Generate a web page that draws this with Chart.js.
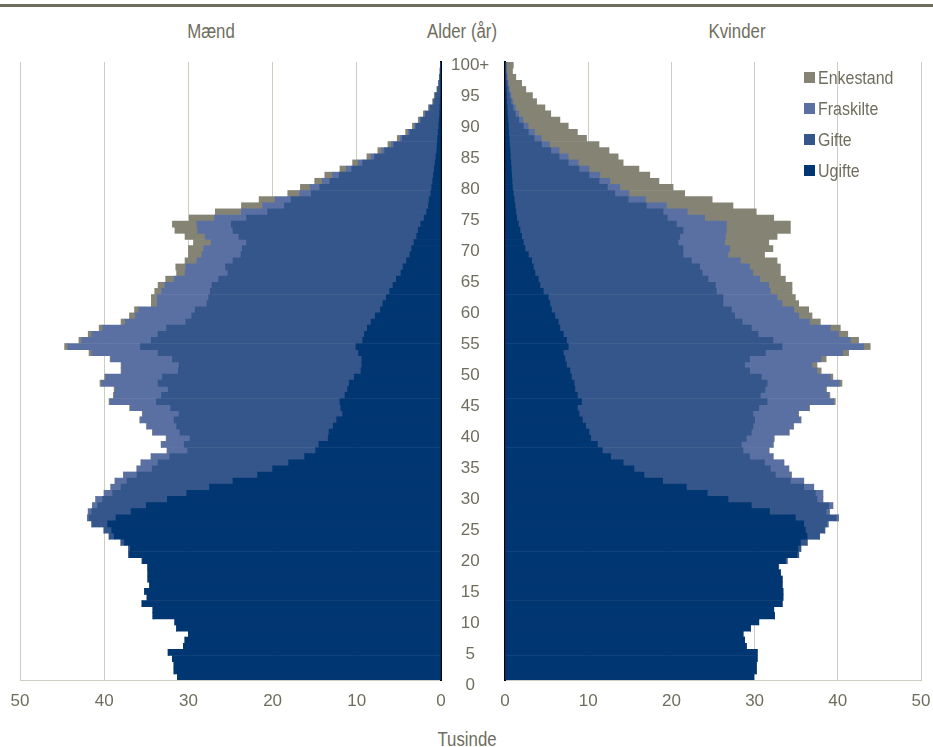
<!DOCTYPE html>
<html lang="da">
<head>
<meta charset="utf-8">
<title>Befolkning efter alder og civilstand</title>
<script src="https://cdn.jsdelivr.net/npm/chart.js@4.4.1/dist/chart.umd.min.js"></script>
<style>
  html, body { margin: 0; padding: 0; background: #fff; }
  #wrap { position: relative; width: 933px; height: 747px; overflow: hidden;
          font-family: 'Liberation Sans Narrow', 'Liberation Sans', Arial, sans-serif; color: #6f6e5e; }
  #topline { position: absolute; left: 0; top: 4px; width: 933px; height: 3px; background: #6f6d5b; }
  .lbl { position: absolute; font-size: 20px; line-height: 20px; white-space: nowrap;
         transform: translateX(-50%) scaleX(0.84); }
  canvas { position: absolute; top: 0; }
  #legend { position: absolute; left: 804px; top: 68px; font-size: 19px; line-height: 20px; }
  #legend .row { height: 20px; margin-bottom: 11px; white-space: nowrap; }
  #legend .box { display: inline-block; width: 11px; height: 11px; margin-right: 3px; vertical-align: 1px; }
  #legend .txt { display: inline-block; transform: scaleX(0.84); transform-origin: left center; }
</style>
</head>
<body>
<div id="wrap">
  <div id="topline"></div>
  <div class="lbl" style="left:211px; top:21px;">Mænd</div>
  <div class="lbl" style="left:462px; top:21px;">Alder (år)</div>
  <div class="lbl" style="left:737px; top:21px;">Kvinder</div>
  <div class="lbl" style="left:467px; top:729px;">Tusinde</div>
  <canvas id="maend" width="452" height="747" style="left:0;width:452px;height:747px;"></canvas>
  <canvas id="kvinder" width="436" height="747" style="left:497px;width:436px;height:747px;"></canvas>
  <canvas id="alder" width="70" height="747" style="left:431px;width:70px;height:747px;"></canvas>
  <div id="legend"></div>
</div>
<script>
// alder 0..100+
const ages = ['0','1','2','3','4','5','6','7','8','9',
  '10','11','12','13','14','15','16','17','18','19',
  '20','21','22','23','24','25','26','27','28','29',
  '30','31','32','33','34','35','36','37','38','39',
  '40','41','42','43','44','45','46','47','48','49',
  '50','51','52','53','54','55','56','57','58','59',
  '60','61','62','63','64','65','66','67','68','69',
  '70','71','72','73','74','75','76','77','78','79',
  '80','81','82','83','84','85','86','87','88','89',
  '90','91','92','93','94','95','96','97','98','99',
  '100+'];

const seriesNames = ['Ugifte', 'Gifte', 'Fraskilte', 'Enkestand'];
const seriesColors = ['#003671', '#34568b', '#5a70a3', '#858474'];

// tusinde personer
const maendUgifte = [31.3,31.7,31.7,31.9,32.4,30.6,30.4,30.0,31.4,31.6,
  34.2,34.2,35.5,34.9,35.2,34.6,34.8,34.8,34.8,35.45,
  37.0,36.9,37.6,38.8,39.1,39.6,38.6,36.8,35.0,32.5,
  30.2,27.5,24.7,21.8,20.0,18.1,16.2,14.9,14.5,13.4,
  13.3,12.8,12.4,11.7,11.9,12.0,11.4,11.1,10.9,10.3,
  9.5,9.4,9.4,9.8,10.1,9.3,9.1,8.75,8.3,7.8,
  7.2,6.9,6.5,6.1,5.7,5.3,4.75,4.5,4.1,3.7,
  3.5,3.2,2.9,2.7,2.4,2.0,1.7,1.5,1.4,1.2,
  1.1,1.0,0.9,0.8,0.7,0.6,0.5,0.45,0.4,0.33,
  0.27,0.22,0.17,0.13,0.1,0.07,0.05,0.04,0.03,0.02,
  0.02];
const maendGifte = [0,0,0,0,0,0,0,0,0,0,
  0,0,0,0,0,0,0,0,0.02,0.05,
  0.1,0.2,0.4,0.6,0.9,1.8,3.2,4.7,5.8,7.7,
  8.8,10.5,12.6,14.3,14.3,15.5,16.0,15.2,16.0,16.4,
  17.7,18.6,19.3,19.4,20.2,21.8,21.8,21.3,22.7,22.8,
  21.7,21.7,22.5,23.8,25.6,25.1,24.5,23.85,22.0,21.8,
  22.0,20.9,21.1,21.3,21.5,21.1,20.55,21.1,20.6,20.05,
  20.1,19.9,21.1,22.0,22.5,21.1,18.9,17.1,16.4,14.2,
  13.3,12.2,11.2,9.8,8.6,7.3,6.2,5.15,4.2,3.37,
  2.73,2.18,1.68,1.17,0.75,0.58,0.35,0.2,0.13,0.07,
  0.04];
const maendFraskilte = [0,0,0,0,0,0,0,0,0,0,
  0,0,0,0,0,0,0,0,0,0,
  0,0,0.01,0.02,0.03,0.1,0.2,0.4,0.6,0.8,
  1.0,1.2,1.4,1.6,1.8,2.0,2.2,2.4,2.7,2.8,
  3.2,3.5,4.0,4.3,4.8,5.5,5.6,6.3,6.7,6.7,
  6.7,6.8,7.3,7.9,8.6,8.3,7.9,7.6,7.2,6.7,
  6.7,5.9,6.1,5.8,5.6,5.3,5.1,4.7,4.3,4.65,
  4.6,4.2,4.0,4.2,4.1,3.8,3.1,2.6,1.9,1.4,
  1.15,0.9,0.8,0.65,0.55,0.4,0.35,0.3,0.25,0.2,
  0.15,0.1,0.08,0.06,0.04,0.03,0.02,0.01,0.01,0.01,
  0];
const maendEnkestand = [0,0,0,0,0,0,0,0,0,0,
  0,0,0,0,0,0,0,0,0,0,
  0,0,0,0,0,0,0,0,0,0,
  0.02,0.02,0.02,0.02,0.02,0.05,0.05,0.05,0.05,0.05,
  0.08,0.08,0.08,0.08,0.08,0.12,0.12,0.12,0.2,0.15,
  0.1,0.1,0.1,0.3,0.4,0.3,0.4,0.4,0.5,0.7,
  0.5,0.7,0.7,0.8,0.8,1.0,1.0,1.2,1.4,1.6,
  1.8,2.1,2.4,2.7,2.9,3.0,3.1,2.5,1.9,1.4,
  1.15,0.9,0.9,0.75,0.65,0.5,0.45,0.4,0.35,0.3,
  0.25,0.2,0.17,0.14,0.11,0.12,0.08,0.05,0.03,0.02,
  0.02];

const kvinderUgifte = [29.9,30.2,30.2,30.3,30.3,29.0,28.8,28.6,29.5,30.5,
  32.4,32.3,33.3,33.4,33.4,33.3,33.3,33.1,32.8,33.7,
  35.1,35.2,35.5,36.3,36.1,35.9,34.9,31.8,29.6,26.8,
  24.3,21.8,18.95,16.7,15.5,14.2,12.7,11.7,11.1,10.3,
  10.1,9.7,9.3,8.9,8.7,9.2,8.7,8.4,8.3,8.0,
  7.8,7.4,7.2,7.0,7.6,7.4,7.0,6.6,6.4,6.0,
  5.6,5.4,5.2,4.6,4.2,4.0,3.6,3.4,3.2,2.8,
  2.4,2.2,2.0,1.8,1.6,1.4,1.3,1.2,1.1,1.0,
  0.9,0.85,0.8,0.75,0.7,0.65,0.6,0.55,0.5,0.45,
  0.4,0.35,0.3,0.25,0.2,0.18,0.14,0.11,0.08,0.06,
  0.06];
const kvinderGifte = [0,0,0,0,0,0,0,0,0,0,
  0,0,0,0,0,0,0,0,0.1,0.2,
  0.2,0.35,0.8,1.5,2.3,2.8,4.9,6.8,9.3,10.7,
  13.0,14.1,15.35,15.8,16.4,17.0,16.7,16.9,17.3,18.7,
  19.5,20.1,20.7,20.9,21.8,22.3,22.0,22.85,23.2,22.8,
  21.6,21.4,22.2,24.3,25.7,24.8,23.4,23.0,22.1,21.6,
  21.6,20.8,21.0,20.8,21.1,20.4,20.1,20.0,19.2,18.6,
  19.0,18.6,19.0,19.6,19.0,18.1,17.7,15.8,13.7,12.2,
  11.4,10.45,9.3,8.15,6.9,5.85,4.9,3.85,3.0,2.35,
  1.8,1.3,0.95,0.7,0.52,0.37,0.26,0.17,0.11,0.07,
  0.06];
const kvinderFraskilte = [0,0,0,0,0,0,0,0,0,0,
  0,0,0,0,0,0,0,0,0,0,
  0.01,0.01,0.02,0.02,0.05,0.15,0.3,0.4,0.5,0.7,
  0.9,1.2,1.6,1.9,2.2,2.3,2.8,3.1,3.8,3.3,
  4.5,4.8,5.5,5.4,6.0,8.0,8.2,7.25,8.7,8.3,
  8.1,8.1,8.6,9.3,9.8,9.3,9.7,9.5,8.1,7.7,
  7.5,7.1,6.5,6.5,6.4,6.2,6.1,6.0,5.9,5.4,
  5.6,5.6,5.5,5.2,6.0,4.5,2.9,2.4,2.1,1.7,
  1.5,1.3,1.3,1.2,1.2,1.1,1.0,0.95,0.85,0.75,
  0.6,0.5,0.4,0.3,0.22,0.17,0.13,0.1,0.08,0.05,
  0.04];
const kvinderEnkestand = [0,0,0,0,0,0,0,0,0,0,
  0,0,0,0,0,0,0,0,0,0,
  0,0,0,0,0,0,0,0,0.01,0.01,
  0.01,0.02,0.02,0.03,0.03,0.04,0.05,0.05,0.06,0.07,
  0.08,0.1,0.1,0.1,0.12,0.2,0.15,0.15,0.3,0.3,
  0.5,0.6,0.6,0.7,0.8,1.0,1.1,1.2,1.3,1.6,
  1.8,2.0,2.2,2.6,2.8,3.1,3.3,3.7,4.4,4.4,
  5.2,5.3,6.2,7.7,7.7,8.3,8.3,8.0,8.0,6.7,
  6.4,5.9,6.0,6.0,5.4,6.0,6.0,5.95,5.45,5.15,
  4.8,4.45,3.85,3.55,2.86,2.58,1.97,1.62,1.03,0.72,
  0.84];

const textGrey = '#6f6e5e';
const gridGrey = '#cdccc3';
const tickFont = {family: "'Liberation Sans Narrow', 'Liberation Sans', Arial, sans-serif", size: 17};

function buildDatasets(values) {
    return seriesNames.map(function (name, i) {
        return {
            label: name,
            data: values[i],
            backgroundColor: seriesColors[i],
            borderWidth: 0,
            barPercentage: 1,
            categoryPercentage: 1,
        };
    });
}

function pyramidSide(id, values, isLeft) {
    return new Chart(document.getElementById(id), {
        type: 'bar',
        data: {labels: ages, datasets: buildDatasets(values)},
        options: {
            indexAxis: 'y',
            responsive: false,
            animation: false,
            layout: {padding: isLeft ? {left: 20, right: 11, top: 62, bottom: 0} : {left: 8, right: 12, top: 62, bottom: 0}},
            plugins: {legend: {display: false}, tooltip: {enabled: false}},
            scales: {
                x: {
                    stacked: true,
                    reverse: isLeft,
                    min: 0,
                    max: 50,
                    // tick padding would widen the side padding, so use an invisible tick mark instead
                    ticks: {stepSize: 10, padding: 0, color: textGrey, font: tickFont},
                    grid: {color: gridGrey, drawTicks: true, tickLength: 11, tickColor: 'rgba(0,0,0,0)'},
                    border: {color: gridGrey},
                    afterFit: function (s) { s.height = 67; },
                },
                y: {
                    stacked: true,
                    reverse: true,
                    position: isLeft ? 'right' : 'left',
                    z: 1,
                    ticks: {display: false},
                    grid: {display: false},
                    border: {color: '#000', width: 2},
                    afterFit: function (s) { s.width = 0; },
                },
            },
        },
    });
}

pyramidSide('maend', [maendUgifte, maendGifte, maendFraskilte, maendEnkestand], true);
pyramidSide('kvinder', [kvinderUgifte, kvinderGifte, kvinderFraskilte, kvinderEnkestand], false);

// aldersakse i midten
new Chart(document.getElementById('alder'), {
    type: 'bar',
    data: {labels: [], datasets: []},
    options: {
        responsive: false,
        animation: false,
        layout: {padding: {top: 65, bottom: 62, left: 0, right: 0}},
        plugins: {legend: {display: false}, tooltip: {enabled: false}},
        scales: {
            x: {display: false},
            y: {
                type: 'linear',
                position: 'right',
                min: 0,
                max: 100,
                ticks: {
                    stepSize: 5, autoSkip: false, crossAlign: 'center', padding: 2,
                    color: textGrey, font: tickFont,
                    callback: function (v) { return ages[v]; },
                },
                grid: {display: false},
                border: {display: false},
                afterFit: function (s) { s.width = 60; },
            },
        },
    },
});

// forklaring
var legendEl = document.getElementById('legend');
for (var i = seriesNames.length - 1; i >= 0; i--) {
    var row = document.createElement('div');
    row.className = 'row';
    var box = document.createElement('span');
    box.className = 'box';
    box.style.background = seriesColors[i];
    var txt = document.createElement('span');
    txt.className = 'txt';
    txt.textContent = seriesNames[i];
    row.appendChild(box);
    row.appendChild(txt);
    legendEl.appendChild(row);
}
</script>
</body>
</html>
